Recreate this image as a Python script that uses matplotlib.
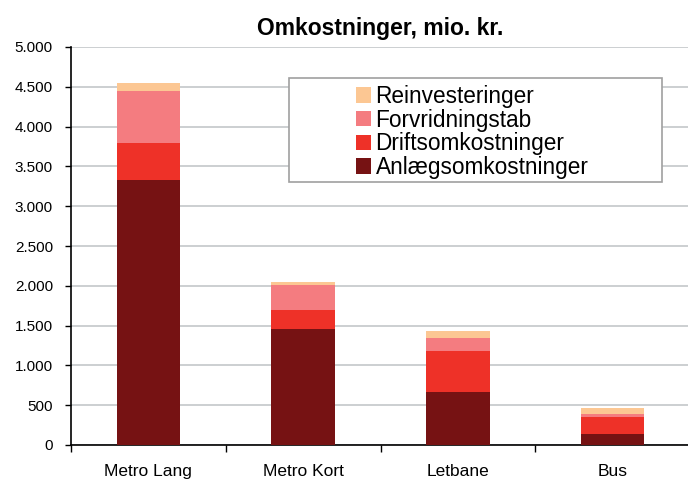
import matplotlib
matplotlib.use("Agg")
import matplotlib.pyplot as plt
from matplotlib.patches import Rectangle, Patch
from matplotlib.ticker import FuncFormatter, FixedLocator
import numpy as np

plt.rcParams['font.family'] = ['Liberation Sans', 'DejaVu Sans']

categories = ["Metro Lang", "Metro Kort", "Letbane", "Bus"]
anlaeg = [3330, 1460, 670, 135]
drift = [470, 240, 510, 220]
forvridning = [650, 305, 160, 35]
reinvest = [95, 37, 95, 70]

series = [
    ("Anlægsomkostninger", anlaeg, "#761213"),
    ("Driftsomkostninger", drift, "#EE3128"),
    ("Forvridningstab", forvridning, "#F47C80"),
    ("Reinvesteringer", reinvest, "#FCC793"),
]

fig = plt.figure(figsize=(6.88, 4.8), dpi=100)
ax = fig.add_axes([71/688, 1-445/480, 619/688, (445-47)/480])

x = np.arange(len(categories))
bottom = np.zeros(len(categories))
handles = {}
for name, vals, col in series:
    ax.bar(x, vals, width=0.41, bottom=bottom, color=col, edgecolor='none', zorder=3)
    handles[name] = Patch(facecolor=col, edgecolor='none')
    bottom += np.array(vals)

ax.set_xlim(-0.5, len(categories) - 0.5)
ax.set_ylim(0, 5000)
ax.set_yticks(np.arange(0, 5001, 500))
ax.yaxis.set_major_formatter(FuncFormatter(lambda v, p: f"{int(v):,}".replace(",", ".")))
ax.yaxis.grid(True, color="#C4C7CA", linewidth=1.2, zorder=0)
ax.set_axisbelow(True)

ax.set_xticks(x)
ax.set_xticklabels(categories, fontsize=12.5)
ax.tick_params(axis='x', length=0, pad=14)
ax.xaxis.set_minor_locator(FixedLocator(np.arange(-0.5, len(categories), 1.0)))
ax.tick_params(axis='x', which='minor', length=5, width=1, direction='out')
ax.tick_params(axis='y', length=4, width=1, direction='out', labelsize=11, pad=9)

for s in ['top', 'right']:
    ax.spines[s].set_visible(False)
ax.spines['left'].set_linewidth(1.2)
ax.spines['bottom'].set_linewidth(1.2)

ax.set_title("Omkostninger, mio. kr.", fontsize=16.5, fontweight='bold', pad=9)

# legend frame
fig.patches.append(Rectangle((289/688, 1-182/480), (662-289)/688, (182-78)/480,
                             transform=fig.transFigure, facecolor='white',
                             edgecolor='#A0A0A0', linewidth=1.2, zorder=5))
order = ["Reinvesteringer", "Forvridningstab", "Driftsomkostninger", "Anlægsomkostninger"]
leg = fig.legend([handles[n] for n in order], order, loc='upper left',
                 bbox_to_anchor=(356/688, 1-85/480), frameon=False, fontsize=16.3,
                 handlelength=0.66, handleheight=0.66, handletextpad=0.2,
                 labelspacing=0.03, borderpad=0, borderaxespad=0)
leg.set_zorder(6)

fig.savefig("out.png", dpi=100)
